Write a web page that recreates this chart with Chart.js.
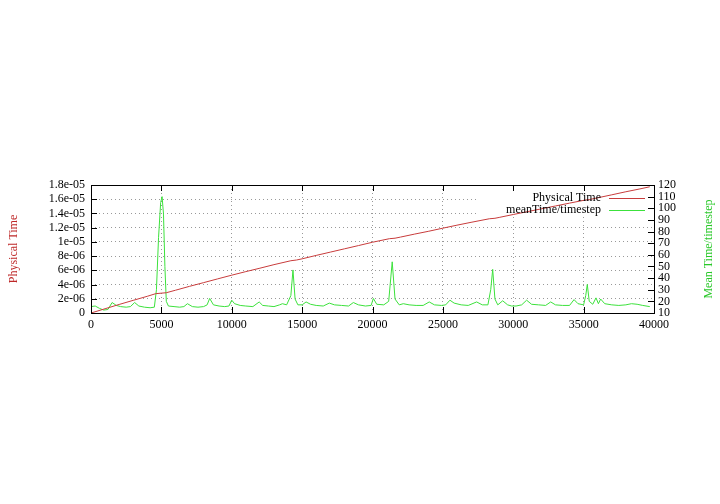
<!DOCTYPE html>
<html lang="en">

<head>
  <title>Physical Time / Mean Time per timestep</title>
  <script src="https://cdn.jsdelivr.net/npm/chart.js"></script>
  <meta charset="utf-8"/>
  <style>
    body {
      margin: 0;
      background: #fff;
    }

    #chart {
      width: 720px;
      height: 504px;
    }
  </style>
</head>

<body>
  <div id="chart">
    <canvas id="my_chart"></canvas>
  </div>

<script>
// timestep number on x, physical time (left axis)
var physSteps = [0, 1000, 2000, 3000, 4000, 4600, 5350, 6000, 7000, 8000, 9000, 10000, 11000, 12000, 13000,
  14200, 14600, 15000, 16000, 17000, 18000, 19000, 20000, 21200, 21600, 22000, 23000, 24000, 25000, 26000,
  27000, 28300, 28700, 29000, 30000, 31000, 32000, 33000, 34000, 35100, 35400, 36000, 37000, 38000, 39000, 39700];
var physTime = [0, 0.6e-6, 1.2e-6, 1.78e-6, 2.35e-6, 2.72e-6, 2.85e-6, 3.2e-6, 3.75e-6, 4.27e-6, 4.8e-6, 5.32e-6,
  5.82e-6, 6.3e-6, 6.8e-6, 7.35e-6, 7.45e-6, 7.62e-6, 8.1e-6, 8.56e-6, 9.02e-6, 9.48e-6, 9.95e-6, 10.45e-6,
  10.52e-6, 10.68e-6, 11.1e-6, 11.5e-6, 11.93e-6, 12.35e-6, 12.75e-6, 13.25e-6, 13.32e-6, 13.44e-6, 13.85e-6,
  14.25e-6, 14.65e-6, 15.05e-6, 15.45e-6, 15.88e-6, 15.95e-6, 16.2e-6, 16.62e-6, 17.05e-6, 17.45e-6, 17.75e-6];

// timestep number on x, mean time per timestep (right axis)
var meanSteps = [0, 300, 600, 900, 1200, 1500, 1800, 2100, 2500, 2800, 3100, 3400, 3800, 4200, 4500, 4650, 4800,
  4950, 5050, 5150, 5250, 5350, 5500, 5900, 6300, 6600, 6850, 7200, 7600, 8000, 8250, 8430, 8700, 9100, 9500,
  9800, 10000, 10200, 10600, 11000, 11500, 11950, 12200, 12600, 13000, 13400, 13600, 13900, 14200, 14350, 14500,
  14700, 15000, 15280, 15600, 16000, 16500, 16930, 17300, 17800, 18300, 18640, 19000, 19500, 19900, 20060, 20300,
  20800, 21150, 21400, 21600, 21900, 22190, 22600, 23100, 23600, 24030, 24400, 24900, 25200, 25500, 25800, 26300,
  26800, 27400, 27800, 28200, 28400, 28540, 28700, 28900, 29250, 29600, 29890, 30200, 30600, 30950, 31300, 31800,
  32300, 32660, 33000, 33500, 34000, 34320, 34600, 35000, 35150, 35260, 35400, 35650, 35880, 36050, 36210, 36500,
  37000, 37500, 38000, 38400, 38800, 39200, 39700];
var meanTime = [15.5, 16, 14, 12.5, 13, 19, 16.5, 15.5, 15, 15.5, 19, 16, 15, 14.5, 15, 30, 75,
  105, 110, 95, 50, 20, 16, 15.5, 15, 15.5, 18, 15.5, 15, 15.5, 17, 22.5, 17, 16, 15.5,
  16, 21, 18, 16.5, 16, 15.5, 19.5, 16.5, 16, 15.5, 17, 18, 17, 25, 47, 22,
  17, 17, 19.5, 17.5, 16.5, 16, 18.5, 17, 16.5, 16, 19, 17, 16, 16.5, 22.5, 17.5,
  17, 20, 54, 22, 17, 18, 17, 16.5, 16.5, 19.5, 17, 16.5, 17, 21, 18.5, 17,
  16.5, 19.5, 17, 17, 30, 47.5, 22, 17, 20.5, 17, 16, 16, 17, 21, 17.5, 17,
  16.5, 19.5, 17, 16.5, 16.5, 21.5, 18, 17, 25, 34.5, 20, 17.5, 23, 18, 22, 18,
  17, 16.5, 17, 18, 17.5, 16.5, 15.5];

var xTicksStep = 5000;
var yLeftLabel = 'Physical Time';
var yRightLabel = 'Mean Time/timestep';
var seriesLabels = ['Physical Time', 'meanTime/timestep'];

const RED = 'rgb(200,60,60)';
const GREEN = 'rgb(60,225,60)';

Chart.defaults.font.family = '"Liberation Serif", "DejaVu Serif", serif';
Chart.defaults.font.size = 12;
Chart.defaults.color = '#000';

function toPoints (xs, ys) {
  return xs.map((x, i) => ({ x: x, y: ys[i] }));
}

function sciLabel (v) {
  if (Math.abs(v) < 1e-12) return '0';
  var s = parseFloat(v.toPrecision(6)).toExponential();
  return s.replace(/e([+-])(\d)$/, 'e$10$2');
}

// gnuplot-like frame, inward ticks, key and axis titles
const gnuplotLook = {
  id: 'gnuplotLook',
  beforeDatasetsDraw (chart) {
    const ctx = chart.ctx;
    const a = chart.chartArea;
    // blank box behind the key
    ctx.save();
    ctx.fillStyle = '#fff';
    ctx.fillRect(478, a.top + 1, a.right - 479, 30);
    ctx.restore();
  },
  afterDatasetsDraw (chart) {
    const ctx = chart.ctx;
    const a = chart.chartArea;
    const sx = chart.scales.x, sy = chart.scales.y, sy2 = chart.scales.y2;
    const tl = 6;
    ctx.save();
    ctx.strokeStyle = '#000';
    ctx.lineWidth = 1;
    ctx.beginPath();
    sx.ticks.forEach(t => {
      const px = Math.round(sx.getPixelForValue(t.value)) + 0.5;
      ctx.moveTo(px, a.bottom); ctx.lineTo(px, a.bottom - tl);
      ctx.moveTo(px, a.top); ctx.lineTo(px, a.top + tl);
    });
    sy.ticks.forEach(t => {
      const py = Math.round(sy.getPixelForValue(t.value)) + 0.5;
      ctx.moveTo(a.left, py); ctx.lineTo(a.left + tl, py);
    });
    sy2.ticks.forEach(t => {
      const py = Math.round(sy2.getPixelForValue(t.value)) + 0.5;
      ctx.moveTo(a.right, py); ctx.lineTo(a.right - tl, py);
    });
    ctx.stroke();
    ctx.strokeRect(a.left + 0.5, a.top + 0.5, a.right - a.left, a.bottom - a.top);

    // key
    ctx.font = '12px "Liberation Serif", serif';
    ctx.textAlign = 'right';
    ctx.textBaseline = 'middle';
    ctx.fillStyle = '#000';
    const keyRows = [[seriesLabels[0], RED, 198], [seriesLabels[1], GREEN, 210]];
    keyRows.forEach(r => {
      ctx.fillText(r[0], 601, r[2]);
      ctx.strokeStyle = r[1];
      ctx.beginPath();
      ctx.moveTo(609, r[2] + 0.5);
      ctx.lineTo(645, r[2] + 0.5);
      ctx.stroke();
    });
    ctx.restore();
  },
  afterDraw (chart) {
    const ctx = chart.ctx;
    const a = chart.chartArea;
    const midY = (a.top + a.bottom) / 2;
    ctx.save();
    ctx.font = '12px "Liberation Serif", serif';
    ctx.textAlign = 'center';
    ctx.textBaseline = 'middle';
    ctx.translate(14, midY);
    ctx.rotate(-Math.PI / 2);
    ctx.fillStyle = 'rgb(190,40,40)';
    ctx.fillText(yLeftLabel, 0, 0);
    ctx.restore();
    ctx.save();
    ctx.font = '12px "Liberation Serif", serif';
    ctx.textAlign = 'center';
    ctx.textBaseline = 'middle';
    ctx.translate(709, midY);
    ctx.rotate(-Math.PI / 2);
    ctx.fillStyle = 'rgb(40,200,40)';
    ctx.fillText(yRightLabel, 0, 0);
    ctx.restore();
  }
};

var myChart;
window.onload = function () {
  const data = {
    datasets: [
      {
        label: seriesLabels[0],
        data: toPoints(physSteps, physTime),
        borderColor: RED,
        backgroundColor: RED,
        borderWidth: 1,
        pointRadius: 0,
        yAxisID: 'y'
      },
      {
        label: seriesLabels[1],
        data: toPoints(meanSteps, meanTime),
        borderColor: GREEN,
        backgroundColor: GREEN,
        borderWidth: 1,
        pointRadius: 0,
        yAxisID: 'y2'
      }
    ]
  };

  const config = {
    type: 'line',
    data: data,
    plugins: [gnuplotLook],
    options: {
      responsive: true,
      maintainAspectRatio: false,
      animation: false,
      layout: {
        padding: { top: 185, left: 0, right: 26, bottom: 161 }
      },
      plugins: {
        legend: { display: false },
        tooltip: { enabled: false }
      },
      scales: {
        x: {
          type: 'linear',
          min: 0,
          max: 40000,
          afterFit: (s) => { s.height = 30; },
          ticks: { stepSize: xTicksStep, autoSkip: false, maxRotation: 0, padding: 5, callback: (v) => String(v) },
          grid: { color: '#999', drawTicks: false },
          border: { display: false, dash: [1, 3] }
        },
        y: {
          position: 'left',
          min: 0,
          max: 1.8e-5,
          afterFit: (s) => { s.width = 91; },
          ticks: { stepSize: 2e-6, autoSkip: false, padding: 6, callback: (v) => sciLabel(v) },
          grid: { color: '#999', drawTicks: false },
          border: { display: false, dash: [1, 3] }
        },
        y2: {
          position: 'right',
          min: 10,
          max: 120,
          afterFit: (s) => { s.width = 40; },
          ticks: { stepSize: 10, autoSkip: false, padding: 4 },
          grid: { display: false, drawTicks: false },
          border: { display: false }
        }
      }
    }
  };

  const ctx = document.getElementById('my_chart').getContext('2d');
  myChart = new Chart(ctx, config);
}
</script>

</body>

</html>
